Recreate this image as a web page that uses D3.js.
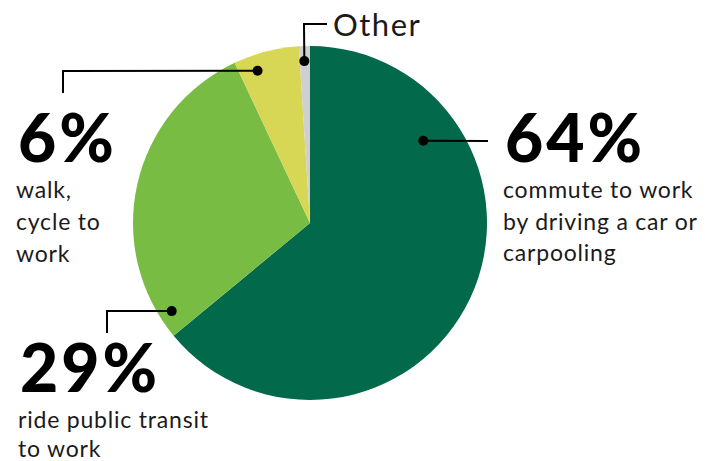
<!DOCTYPE html>
<html>
<head>
    <meta charset="utf-8">
    <style>
        body { margin: 0; background: #fff; }
        svg { display: block; }
        .big { font-family: Lato, sans-serif; font-weight: 900; fill: #000; letter-spacing: 3px; }
        .desc { font-family: Lato, sans-serif; font-weight: 400; fill: #1a1a1a; letter-spacing: 0.8px; }
        .leader { fill: none; stroke: #000; stroke-width: 2; }
    </style>
</head>
<body>
<svg width="709" height="461"></svg>
<script src="https://d3js.org/d3.v7.min.js"></script>
<script>
    // data
    let modes = ["car", "transit", "walk", "other"]
    let shares = [64, 29, 6, 1]
    let colors = ["#02694a", "#79bc43", "#d7d655", "#cfcfd2"]
    let bigLabels = ["64%", "29%", "6%", ""]
    let descLabels = [
        ["commute to work", "by driving a car or", "carpooling"],
        ["ride public transit", "to work"],
        ["walk,", "cycle to", "work"],
        []
    ]

    let width = 709
    let height = 461
    let cx = 310, cy = 223, radius = 177

    let svg = d3.select("svg")

    let pie = d3.pie().sort(null).value(d => d)
    let arc = d3.arc().innerRadius(0).outerRadius(radius)

    let g = svg.append("g").attr("transform", `translate(${cx},${cy})`)

    g.selectAll(".slice")
        .data(pie(shares))
        .join("path")
        .attr("class", "slice")
        .attr("d", arc)
        .style("fill", (d, i) => colors[i])

    // annotation layout: dot angle (deg) / radius, then elbow points, then text position
    let layout = [
        { ang: 54, r: 140, elbow: [[488, 141]], tx: 505, ty: 162, dy: [198, 230, 261] },
        { ang: 237.5, r: 164, elbow: [[107, 311], [107, 333]], tx: 20, ty: 392, dy: [428, 457] },
        { ang: 341, r: 161, elbow: [[63, 71], [63, 93]], tx: 18, ty: 162, dy: [198, 230, 262] },
        { ang: 358, r: 162, elbow: [[304, 24], [327, 24]] }
    ]

    layout.forEach((a, i) => {
        let p = d3.pointRadial(a.ang * Math.PI / 180, a.r)
        let dot = [cx + p[0], cy + p[1]]
        let pts = [dot].concat(a.elbow)

        svg.append("path")
            .attr("class", "leader")
            .attr("d", d3.line()(pts))

        svg.append("circle")
            .attr("cx", dot[0])
            .attr("cy", dot[1])
            .attr("r", 5)
            .style("fill", "#000")

        if (bigLabels[i]) {
            svg.append("text")
                .attr("class", "big")
                .attr("x", a.tx)
                .attr("y", a.ty)
                .style("font-size", "66px")
                .text(bigLabels[i])

            descLabels[i].forEach((line, j) => {
                svg.append("text")
                    .attr("class", "desc")
                    .attr("x", a.tx - 2)
                    .attr("y", a.dy[j])
                    .style("font-size", "23px")
                    .text(line)
            })
        }
    })

    svg.append("text")
        .attr("class", "desc")
        .attr("x", 333)
        .attr("y", 36)
        .style("font-size", "31px")
        .style("letter-spacing", "1.5px")
        .text("Other")
</script>
</body>
</html>
